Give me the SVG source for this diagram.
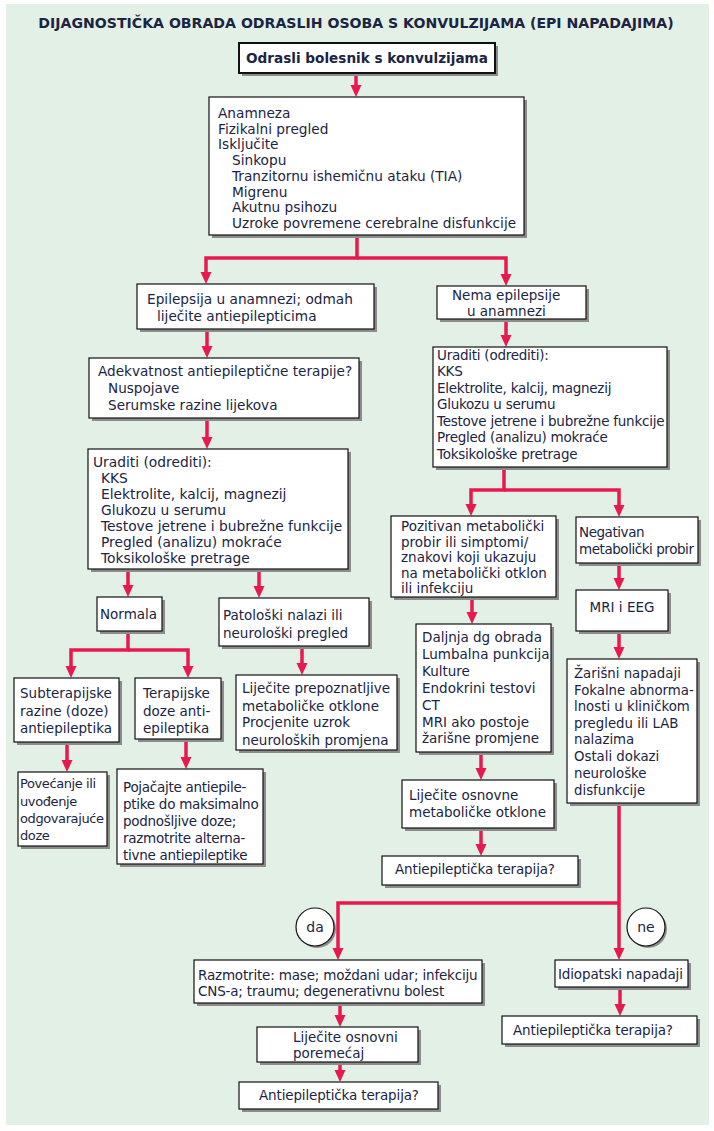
<svg xmlns="http://www.w3.org/2000/svg" width="714" height="1131" viewBox="0 0 714 1131">
<defs>
<style>
.bg{fill:#e3f0e5}
.b{fill:#fff;stroke:#111;stroke-width:1.2}
.sh{fill:#8c8c8c}
.t{font-family:"DejaVu Sans",Verdana,sans-serif;font-size:13.5px;fill:#1b2442}
.tb{font-family:"DejaVu Sans",Verdana,sans-serif;font-weight:bold;fill:#1b2442}
.c{fill:none;stroke:#e8194f;stroke-width:3.5;stroke-linejoin:miter}
</style>
<marker id="ah" markerUnits="userSpaceOnUse" markerWidth="12" markerHeight="12" refX="2" refY="5.5" orient="auto">
<path d="M0,0 L12,5.5 L0,11 z" fill="#e8194f"/>
</marker>
</defs>
<rect class="bg" x="6" y="4" width="703" height="1121"/>
<text class="tb" x="356" y="28" style="font-size:14.1px" text-anchor="middle">DIJAGNOSTIČKA OBRADA ODRASLIH OSOBA S KONVULZIJAMA (EPI NAPADAJIMA)</text>

<g id="connectors">
<path class="c" marker-end="url(#ah)" d="M356,74 V87"/>
<path class="c" marker-end="url(#ah)" d="M357,235 V258 H206 V274"/>
<path class="c" marker-end="url(#ah)" d="M357,258 H506 V276"/>
<path class="c" marker-end="url(#ah)" d="M207,329 V348"/>
<path class="c" marker-end="url(#ah)" d="M207,418 V439"/>
<path class="c" marker-end="url(#ah)" d="M506,319 V337"/>
<path class="c" marker-end="url(#ah)" d="M128,569 V587"/>
<path class="c" marker-end="url(#ah)" d="M259,569 V588"/>
<path class="c" marker-end="url(#ah)" d="M128,631 V650 H71 V668"/>
<path class="c" marker-end="url(#ah)" d="M128,650 H188 V668"/>
<path class="c" marker-end="url(#ah)" d="M302,646 V665"/>
<path class="c" marker-end="url(#ah)" d="M67,742 V762"/>
<path class="c" marker-end="url(#ah)" d="M186,739 V759"/>
<path class="c" marker-end="url(#ah)" d="M504,467 V490 H471 V506"/>
<path class="c" marker-end="url(#ah)" d="M504,490 H619 V507"/>
<path class="c" marker-end="url(#ah)" d="M472,597 V614"/>
<path class="c" marker-end="url(#ah)" d="M619,563 V580"/>
<path class="c" marker-end="url(#ah)" d="M619,631 V649"/>
<path class="c" marker-end="url(#ah)" d="M481,752 V770"/>
<path class="c" marker-end="url(#ah)" d="M481,828 V846"/>
<path class="c" marker-end="url(#ah)" d="M619,803 V950"/>
<path class="c" marker-end="url(#ah)" d="M619,903 H338 V950"/>
<path class="c" marker-end="url(#ah)" d="M340,1003 V1017"/>
<path class="c" marker-end="url(#ah)" d="M340,1062 V1072"/>
<path class="c" marker-end="url(#ah)" d="M620,987 V1006"/>
</g>

<g id="n0">
<rect class="sh" x="242" y="46" width="256" height="30"/>
<rect x="239" y="43" width="256" height="30" fill="#fff" stroke="#111" stroke-width="2"/>
<text class="tb" x="367" y="63" style="font-size:13.6px" text-anchor="middle">Odrasli bolesnik s konvulzijama</text>
</g>

<g id="n1">
<rect class="sh" x="212" y="100" width="315" height="138"/>
<rect class="b" x="209" y="97" width="315" height="138"/>
<text class="t" style="font-size:13.7px"><tspan x="218" y="118">Anamneza</tspan><tspan x="218" y="134">Fizikalni pregled</tspan><tspan x="218" y="149">Isključite</tspan><tspan x="232" y="165">Sinkopu</tspan><tspan x="232" y="181">Tranzitornu ishemičnu ataku (TIA)</tspan><tspan x="232" y="197">Migrenu</tspan><tspan x="232" y="212">Akutnu psihozu</tspan><tspan x="232" y="228">Uzroke povremene cerebralne disfunkcije</tspan></text>
</g>

<g id="n2">
<rect class="sh" x="140" y="287" width="237" height="45"/>
<rect class="b" x="137" y="284" width="237" height="45"/>
<text class="t" style="font-size:13.7px"><tspan x="147" y="304">Epilepsija u anamnezi; odmah</tspan><tspan x="157" y="321">liječite antiepilepticima</tspan></text>
</g>

<g id="n3">
<rect class="sh" x="440" y="289" width="149" height="33"/>
<rect class="b" x="437" y="286" width="149" height="33"/>
<text class="t"><tspan x="452" y="300">Nema epilepsije</tspan><tspan x="467" y="316">u anamnezi</tspan></text>
</g>

<g id="n4">
<rect class="sh" x="92" y="361" width="270" height="60"/>
<rect class="b" x="89" y="358" width="270" height="60"/>
<text class="t" style="font-size:13.6px"><tspan x="98" y="376">Adekvatnost antiepileptične terapije?</tspan><tspan x="108" y="393">Nuspojave</tspan><tspan x="108" y="410">Serumske razine lijekova</tspan></text>
</g>

<g id="n5">
<rect class="sh" x="91" y="452" width="260" height="120"/>
<rect class="b" x="88" y="449" width="260" height="120"/>
<text class="t" style="font-size:13.8px"><tspan x="93" y="467">Uraditi (odrediti):</tspan><tspan x="101" y="483">KKS</tspan><tspan x="101" y="499">Elektrolite, kalcij, magnezij</tspan><tspan x="101" y="515">Glukozu u serumu</tspan><tspan x="101" y="531">Testove jetrene i bubrežne funkcije</tspan><tspan x="101" y="547">Pregled (analizu) mokraće</tspan><tspan x="101" y="563">Toksikološke pretrage</tspan></text>
</g>

<g id="n6">
<rect class="sh" x="436" y="350" width="234" height="120"/>
<rect class="b" x="433" y="347" width="234" height="120"/>
<text class="t" style="letter-spacing:-0.25px"><tspan x="437" y="360">Uraditi (odrediti):</tspan><tspan x="437" y="376">KKS</tspan><tspan x="437" y="393">Elektrolite, kalcij, magnezij</tspan><tspan x="437" y="409">Glukozu u serumu</tspan><tspan x="437" y="426">Testove jetrene i bubrežne funkcije</tspan><tspan x="437" y="442">Pregled (analizu) mokraće</tspan><tspan x="437" y="459">Toksikološke pretrage</tspan></text>
</g>

<g id="n7">
<rect class="sh" x="100" y="600" width="65" height="34"/>
<rect class="b" x="97" y="597" width="65" height="34"/>
<text class="t" x="100" y="619">Normala</text>
</g>

<g id="n8">
<rect class="sh" x="222" y="601" width="150" height="48"/>
<rect class="b" x="219" y="598" width="150" height="48"/>
<text class="t"><tspan x="223" y="620">Patološki nalazi ili</tspan><tspan x="223" y="638">neurološki pregled</tspan></text>
</g>

<g id="n9">
<rect class="sh" x="394" y="519" width="165" height="81"/>
<rect class="b" x="391" y="516" width="165" height="81"/>
<text class="t"><tspan x="401" y="531">Pozitivan metabolički</tspan><tspan x="401" y="547">probir ili simptomi/</tspan><tspan x="401" y="562">znakovi koji ukazuju</tspan><tspan x="401" y="578">na metabolički otklon</tspan><tspan x="401" y="593">ili infekciju</tspan></text>
</g>

<g id="n10">
<rect class="sh" x="579" y="520" width="122" height="46"/>
<rect class="b" x="576" y="517" width="122" height="46"/>
<text class="t" style="letter-spacing:-0.45px"><tspan x="579" y="537">Negativan</tspan><tspan x="579" y="554">metabolički probir</tspan></text>
</g>

<g id="n11">
<rect class="sh" x="579" y="593" width="92" height="41"/>
<rect class="b" x="576" y="590" width="92" height="41"/>
<text class="t" x="622" y="612" text-anchor="middle">MRI i EEG</text>
</g>

<g id="n12">
<rect class="sh" x="17" y="681" width="105" height="64"/>
<rect class="b" x="14" y="678" width="105" height="64"/>
<text class="t"><tspan x="20" y="698">Subterapijske</tspan><tspan x="20" y="716">razine (doze)</tspan><tspan x="20" y="733">antiepileptika</tspan></text>
</g>

<g id="n13">
<rect class="sh" x="138" y="681" width="86" height="61"/>
<rect class="b" x="135" y="678" width="86" height="61"/>
<text class="t"><tspan x="143" y="698">Terapijske</tspan><tspan x="143" y="716">doze anti-</tspan><tspan x="143" y="733">epileptika</tspan></text>
</g>

<g id="n14">
<rect class="sh" x="239" y="678" width="161" height="75"/>
<rect class="b" x="236" y="675" width="161" height="75"/>
<text class="t"><tspan x="242" y="693">Liječite prepoznatljive</tspan><tspan x="242" y="711">metaboličke otklone</tspan><tspan x="242" y="727">Procjenite uzrok</tspan><tspan x="242" y="745">neuroloških promjena</tspan></text>
</g>

<g id="n15">
<rect class="sh" x="419" y="627" width="135" height="128"/>
<rect class="b" x="416" y="624" width="135" height="128"/>
<text class="t"><tspan x="422" y="642">Daljnja dg obrada</tspan><tspan x="422" y="659">Lumbalna punkcija</tspan><tspan x="422" y="676">Kulture</tspan><tspan x="422" y="693">Endokrini testovi</tspan><tspan x="422" y="710">CT</tspan><tspan x="422" y="727">MRI ako postoje</tspan><tspan x="422" y="743">žarišne promjene</tspan></text>
</g>

<g id="n16">
<rect class="sh" x="570" y="662" width="130" height="144"/>
<rect class="b" x="567" y="659" width="130" height="144"/>
<text class="t" style="font-size:13.3px"><tspan x="574" y="678">Žarišni napadaji</tspan><tspan x="574" y="695">Fokalne abnorma-</tspan><tspan x="574" y="711">lnosti u kliničkom</tspan><tspan x="574" y="728">pregledu ili LAB</tspan><tspan x="574" y="744">nalazima</tspan><tspan x="574" y="761">Ostali dokazi</tspan><tspan x="574" y="778">neurološke</tspan><tspan x="574" y="795">disfunkcije</tspan></text>
</g>

<g id="n17">
<rect class="sh" x="21" y="775" width="89" height="74"/>
<rect class="b" x="18" y="772" width="89" height="74"/>
<text class="t" style="font-size:13px;letter-spacing:-0.4px"><tspan x="20" y="788">Povećanje ili</tspan><tspan x="20" y="806">uvođenje</tspan><tspan x="20" y="823">odgovarajuće</tspan><tspan x="20" y="840">doze</tspan></text>
</g>

<g id="n18">
<rect class="sh" x="120" y="772" width="146" height="95"/>
<rect class="b" x="117" y="769" width="146" height="95"/>
<text class="t" style="letter-spacing:-0.28px"><tspan x="123" y="792">Pojačajte antiepile-</tspan><tspan x="123" y="809">ptike do maksimalno</tspan><tspan x="123" y="826">podnošljive doze;</tspan><tspan x="123" y="843">razmotrite alterna-</tspan><tspan x="123" y="860">tivne antiepileptike</tspan></text>
</g>

<g id="n19">
<rect class="sh" x="405" y="783" width="152" height="48"/>
<rect class="b" x="402" y="780" width="152" height="48"/>
<text class="t"><tspan x="409" y="800">Liječite osnovne</tspan><tspan x="409" y="817">metaboličke otklone</tspan></text>
</g>

<g id="n20">
<rect class="sh" x="385" y="859" width="196" height="29"/>
<rect class="b" x="382" y="856" width="196" height="29"/>
<text class="t" style="letter-spacing:-0.15px" x="395" y="874">Antiepileptička terapija?</text>
</g>

<g id="n21">
<circle cx="317" cy="929" r="19" fill="#8c8c8c"/>
<circle cx="315" cy="927" r="19" fill="#fff" stroke="#111" stroke-width="1.2"/>
<text class="t" x="315" y="932" style="font-size:14px" text-anchor="middle">da</text>
</g>

<g id="n22">
<circle cx="648" cy="929" r="19" fill="#8c8c8c"/>
<circle cx="646" cy="927" r="19" fill="#fff" stroke="#111" stroke-width="1.2"/>
<text class="t" x="646" y="932" style="font-size:14px" text-anchor="middle">ne</text>
</g>

<g id="n23">
<rect class="sh" x="197" y="963" width="288" height="43"/>
<rect class="b" x="194" y="960" width="288" height="43"/>
<text class="t" style="letter-spacing:-0.18px"><tspan x="198" y="980">Razmotrite: mase; moždani udar; infekciju</tspan><tspan x="198" y="996">CNS-a; traumu; degenerativnu bolest</tspan></text>
</g>

<g id="n24">
<rect class="sh" x="558" y="963" width="133" height="27"/>
<rect class="b" x="555" y="960" width="133" height="27"/>
<text class="t" style="letter-spacing:-0.15px" x="558" y="979">Idiopatski napadaji</text>
</g>

<g id="n25">
<rect class="sh" x="260" y="1030" width="161" height="35"/>
<rect class="b" x="257" y="1027" width="161" height="35"/>
<text class="t"><tspan x="293" y="1042">Liječite osnovni</tspan><tspan x="293" y="1058">poremećaj</tspan></text>
</g>

<g id="n26">
<rect class="sh" x="242" y="1085" width="199" height="27"/>
<rect class="b" x="239" y="1082" width="199" height="27"/>
<text class="t" style="letter-spacing:-0.15px" x="259" y="1100">Antiepileptička terapija?</text>
</g>

<g id="n27">
<rect class="sh" x="505" y="1019" width="195" height="28"/>
<rect class="b" x="502" y="1016" width="195" height="28"/>
<text class="t" style="letter-spacing:-0.15px" x="513" y="1035">Antiepileptička terapija?</text>
</g>
</svg>
